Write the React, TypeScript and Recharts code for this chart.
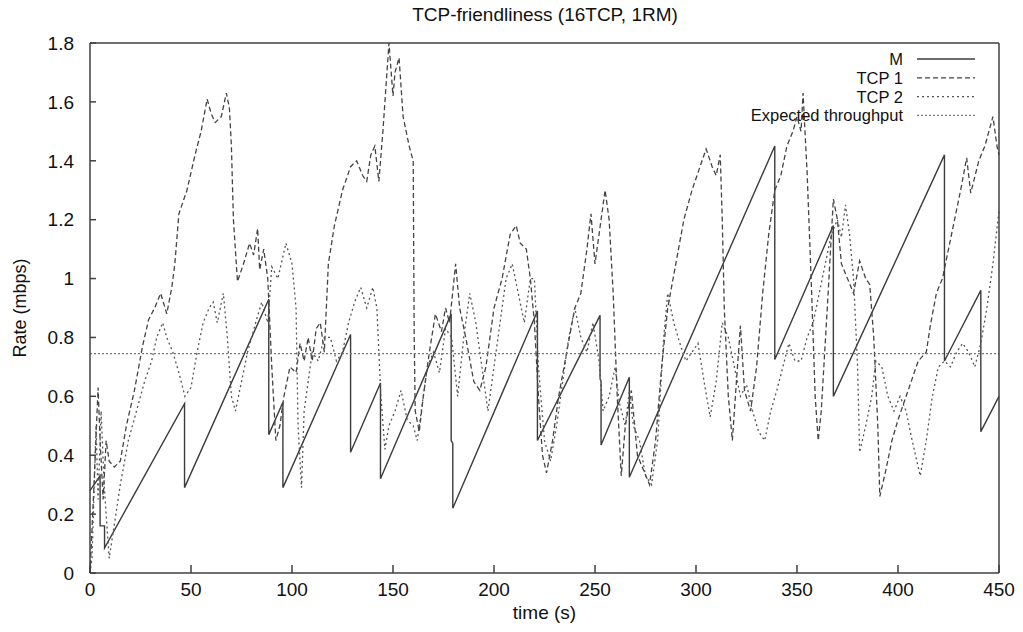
import React from 'react';
import { LineChart, Line, XAxis, YAxis, Legend } from 'recharts';

type Pt = [number, number];

const xTicks = [0, 50, 100, 150, 200, 250, 300, 350, 400, 450];
const yTicks = [0, 0.2, 0.4, 0.6, 0.8, 1, 1.2, 1.4, 1.6, 1.8];

// rate of the RM flow (sawtooth)
const mRate: Pt[] = [
  [0, 0.28], [5, 0.33], [5, 0.16], [7.2, 0.16], [7.2, 0.085], [46.8, 0.575], [46.8, 0.29],
  [88.5, 0.93], [88.5, 0.47], [95.5, 0.58], [95.5, 0.29], [129, 0.81], [129, 0.41],
  [143.8, 0.645], [143.8, 0.32], [178.8, 0.88], [178.8, 0.45], [179.6, 0.44], [179.6, 0.22],
  [221.5, 0.89], [221.5, 0.45], [252.5, 0.875], [252.5, 0.66], [253, 0.65], [253, 0.435],
  [267, 0.665], [267, 0.325], [339, 1.45], [339, 0.725], [368, 1.18], [368, 0.6],
  [423, 1.42], [423, 0.72], [441, 0.96], [441, 0.48], [450, 0.6],
];

const tcp1Rate: Pt[] = [
  [0, 0], [2, 0.3], [4, 0.63], [5, 0.45], [6.5, 0.25], [8, 0.45], [9.5, 0.38], [12, 0.36],
  [15, 0.38], [18, 0.5], [22, 0.62], [26, 0.77], [29, 0.86], [32, 0.9], [35, 0.95], [38, 0.88],
  [40.5, 0.97], [42, 1.05], [44, 1.22], [48, 1.3], [52, 1.42], [55, 1.5], [58, 1.61], [60, 1.56],
  [62, 1.53], [65, 1.55], [67.5, 1.63], [69, 1.58], [70, 1.45], [71, 1.2], [73, 0.99], [76, 1.05],
  [79, 1.12], [81, 1.08], [83, 1.17], [84, 1.03], [86, 1.1], [88, 1.0], [90, 0.7], [92, 0.45],
  [94, 0.5], [96, 0.6], [99, 0.7], [102, 0.68], [104, 0.78], [106, 0.72], [108, 0.8], [110, 0.72],
  [112, 0.83], [114, 0.85], [116, 0.75], [118, 1.05], [121, 1.18], [125, 1.3], [129, 1.38],
  [132, 1.4], [135, 1.35], [137, 1.33], [139, 1.42], [141, 1.45], [143, 1.33], [145, 1.5],
  [147, 1.7], [148, 1.8], [150, 1.62], [151, 1.7], [153, 1.75], [155, 1.55], [158, 1.45],
  [160, 1.4], [160.5, 0.8], [161, 0.55], [163, 0.48], [165, 0.6], [168, 0.75], [171, 0.88],
  [174, 0.82], [176, 0.9], [178, 0.85], [181, 1.05], [183, 0.9], [186, 0.8], [190, 0.65],
  [193, 0.62], [196, 0.7], [200, 0.9], [204, 1.0], [208, 1.15], [211, 1.18], [213, 1.12],
  [216, 1.1], [218, 1.0], [220, 0.85], [222, 0.6], [224, 0.4], [226, 0.34], [229, 0.45],
  [232, 0.6], [236, 0.75], [240, 0.9], [243, 0.95], [246, 1.1], [248, 1.22], [250, 1.05],
  [252, 1.15], [255, 1.3], [257, 1.2], [259, 0.95], [261, 0.6], [263, 0.33], [265, 0.5],
  [268, 0.62], [271, 0.4], [274, 0.35], [277, 0.3], [280, 0.45], [283, 0.7], [286, 0.9],
  [290, 1.05], [294, 1.2], [298, 1.3], [302, 1.38], [305, 1.44], [308, 1.38], [310, 1.35],
  [312, 1.42], [313, 1.2], [314, 0.9], [316, 0.6], [318, 0.45], [320, 0.65], [322, 0.84],
  [324, 0.62], [327, 0.55], [330, 0.7], [333, 0.95], [336, 1.15], [339, 1.3], [342, 1.35],
  [345, 1.45], [348, 1.5], [350, 1.55], [352, 1.5], [353, 1.63], [355, 1.36], [357, 1.0],
  [359, 0.6], [360.5, 0.45], [362, 0.55], [365, 0.9], [368, 1.27], [370, 1.2], [372, 1.05],
  [375, 1.0], [378, 0.95], [381, 1.06], [384, 1.0], [386, 0.98], [388, 0.8], [390, 0.5],
  [391, 0.26], [394, 0.35], [397, 0.45], [400, 0.52], [404, 0.6], [407, 0.66], [410, 0.72],
  [414, 0.75], [416, 0.84], [419, 0.95], [422, 1.0], [425, 1.1], [428, 1.2], [431, 1.3],
  [434, 1.41], [436, 1.29], [440, 1.4], [443, 1.45], [445, 1.5], [447, 1.55], [449, 1.45],
  [450, 1.42],
];

const tcp2Rate: Pt[] = [
  [0, 0], [1, 0.05], [3, 0.5], [4, 0.25], [5.5, 0.55], [7, 0.3], [9.5, 0.05], [11.5, 0.14],
  [15, 0.3], [19, 0.45], [23, 0.55], [27, 0.65], [30.5, 0.72], [33, 0.8], [36, 0.85], [38, 0.8],
  [41, 0.75], [44, 0.68], [47, 0.6], [50, 0.63], [53, 0.75], [56, 0.85], [59, 0.9], [61, 0.92],
  [63, 0.85], [66, 0.95], [68, 0.8], [70, 0.6], [72, 0.55], [75, 0.65], [78, 0.75], [82, 0.85],
  [85, 0.92], [88, 0.85], [90, 1.04], [93, 1.0], [97, 1.12], [100, 1.05], [102, 0.9], [103, 0.5],
  [104.7, 0.29], [106, 0.55], [108, 0.65], [110, 0.75], [113, 0.72], [116, 0.8], [119, 0.8],
  [122, 0.72], [125, 0.75], [128, 0.85], [131, 0.92], [134, 0.97], [137, 0.9], [140, 0.97],
  [142, 0.9], [144, 0.6], [146, 0.42], [148, 0.5], [151, 0.55], [154, 0.62], [157, 0.52],
  [160, 0.5], [162, 0.45], [164, 0.55], [167, 0.7], [170, 0.75], [173, 0.68], [176, 0.83],
  [179, 0.8], [182, 0.6], [185, 0.8], [188, 0.95], [191, 0.85], [194, 0.7], [197, 0.55],
  [200, 0.7], [203, 0.85], [206, 1.0], [209, 1.05], [212, 0.95], [215, 0.85], [218, 1.0],
  [220, 1.0], [222, 0.7], [225, 0.45], [228, 0.38], [231, 0.5], [234, 0.65], [237, 0.8],
  [240, 0.9], [243, 0.8], [246, 0.75], [249, 0.85], [252, 0.72], [254, 0.55], [257, 0.6],
  [260, 0.7], [262, 0.58], [265, 0.5], [267, 0.62], [269, 0.5], [272, 0.45], [275, 0.33],
  [278, 0.3], [281, 0.45], [284, 0.8], [286, 0.95], [289, 0.85], [292, 0.78], [295, 0.72],
  [298, 0.75], [301, 0.78], [304, 0.65], [307, 0.53], [310, 0.65], [313, 0.85], [316, 0.8],
  [319, 0.7], [322, 0.6], [325, 0.64], [328, 0.55], [331, 0.48], [334, 0.45], [337, 0.55],
  [340, 0.62], [343, 0.7], [346, 0.78], [349, 0.72], [352, 0.72], [355, 0.8], [358, 0.85],
  [361, 0.95], [364, 1.05], [367, 1.15], [370, 1.2], [372, 1.14], [374, 1.25], [376, 1.15],
  [378, 1.0], [380, 0.7], [381, 0.41], [384, 0.5], [387, 0.6], [389, 0.72], [392, 0.7],
  [395, 0.6], [398, 0.55], [401, 0.6], [404, 0.55], [407, 0.45], [411, 0.33], [414, 0.45],
  [417, 0.6], [420, 0.7], [423, 0.72], [426, 0.7], [429, 0.75], [432, 0.78], [435, 0.75],
  [438, 0.7], [441, 0.78], [444, 0.9], [447, 1.05], [450, 1.23],
];

const expectedRate = 0.745;

const toRows = (pts: Pt[]) => pts.map(([t, v]) => ({ t, v }));

const series = [
  { name: 'M', rows: toRows(mRate), stroke: '#3c3c3c', dash: undefined as string | undefined, width: 1.4 },
  { name: 'TCP 1', rows: toRows(tcp1Rate), stroke: '#444', dash: '5 3', width: 1.3 },
  { name: 'TCP 2', rows: toRows(tcp2Rate), stroke: '#555', dash: '2 3', width: 1.3 },
  {
    name: 'Expected throughput',
    rows: [{ t: 0, v: expectedRate }, { t: 450, v: expectedRate }],
    stroke: '#777',
    dash: '2 2',
    width: 1.1,
  },
];

const FONT = "'Liberation Sans', Arial, Helvetica, sans-serif";
const axisColor = '#404040';

const renderLegend = () => (
  <svg width={300} height={80} style={{ display: 'block', overflow: 'visible' }}>
    {series.map((s, i) => {
      const y = 9 + i * 18.8;
      return (
        <g key={s.name}>
          <text x={215} y={y} textAnchor="end" dominantBaseline="central" fontSize={16.5} fill="#111" fontFamily={FONT}>
            {s.name}
          </text>
          <line x1={229} x2={287} y1={y} y2={y} stroke={s.stroke} strokeWidth={s.width} strokeDasharray={s.dash} />
        </g>
      );
    })}
  </svg>
);

const App: React.FC = () => {
  return (
    <div style={{ position: 'relative', width: 1007, height: 616, fontFamily: FONT, background: '#fff' }}>
      <div
        style={{
          position: 'absolute',
          top: -4,
          left: 337,
          width: 400,
          textAlign: 'center',
          fontSize: 19,
          lineHeight: '22px',
          color: '#111',
        }}
      >
        TCP-friendliness (16TCP, 1RM)
      </div>
      <LineChart width={1007} height={616} margin={{ top: 34, right: 15, left: 0, bottom: 0 }}>
        <XAxis
          xAxisId="main"
          dataKey="t"
          type="number"
          domain={[0, 450]}
          ticks={xTicks}
          interval={0}
          height={51}
          tickSize={-8}
          tickMargin={18}
          stroke={axisColor}
          strokeWidth={1.5}
          tick={{ fontSize: 19, fill: '#111' }}
          allowDuplicatedCategory={false}
          label={{ value: 'time (s)', position: 'insideBottom', offset: 5, fontSize: 19, fill: '#111' }}
        />
        <XAxis
          xAxisId="top"
          orientation="top"
          dataKey="t"
          type="number"
          domain={[0, 450]}
          ticks={xTicks}
          interval={0}
          height={1}
          tickSize={-8}
          tick={false}
          stroke={axisColor}
          strokeWidth={1.5}
        />
        <YAxis
          yAxisId="main"
          type="number"
          domain={[0, 1.8]}
          ticks={yTicks}
          interval={0}
          width={82}
          tickSize={-6}
          tickMargin={22}
          stroke={axisColor}
          strokeWidth={1.5}
          tick={{ fontSize: 19, fill: '#111' }}
          label={{
            value: 'Rate (mbps)',
            angle: -90,
            position: 'insideLeft',
            offset: 12,
            fontSize: 18,
            fill: '#111',
            style: { textAnchor: 'middle' },
          }}
        />
        <YAxis
          yAxisId="right"
          orientation="right"
          type="number"
          domain={[0, 1.8]}
          ticks={yTicks}
          interval={0}
          width={1}
          tickSize={-6}
          tick={false}
          stroke={axisColor}
          strokeWidth={1.5}
        />
        <Legend
          layout="horizontal"
          verticalAlign="middle"
          align="center"
          content={renderLegend}
          wrapperStyle={{ position: 'absolute', top: 42, left: 680, width: 300, height: 80 }}
        />
        {series.map((s) => (
          <Line
            key={s.name}
            xAxisId="main"
            yAxisId="main"
            data={s.rows}
            dataKey="v"
            name={s.name}
            type="linear"
            stroke={s.stroke}
            strokeWidth={s.width}
            strokeDasharray={s.dash}
            dot={false}
            activeDot={false}
            isAnimationActive={false}
          />
        ))}
      </LineChart>
    </div>
  );
};

export default App;
